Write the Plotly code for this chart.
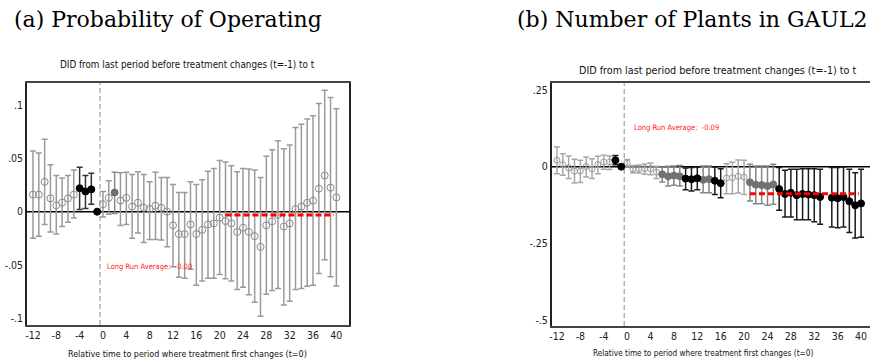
import plotly.graph_objects as go

# ---------------- data ----------------
t = list(range(-12, 41))

# Panel (a): Probability of Operating
a_est = [0.016, 0.016, 0.028, 0.0125, 0.006, 0.0085, 0.0125, 0.016, 0.022, 0.019, 0.021, 0.0,
         0.007, 0.013, 0.018, 0.0105, 0.013, 0.0047, 0.0084, 0.0037, 0.0025, 0.0056, 0.0037, 0.0,
         -0.0128, -0.021, -0.021, -0.012, -0.021, -0.017, -0.012, -0.011, -0.0056, -0.0088, -0.011,
         -0.019, -0.015, -0.019, -0.023, -0.033, -0.0128, -0.009, -0.003, -0.014, -0.011, 0.0025,
         0.0047, 0.0084, 0.0103, 0.0216, 0.034, 0.0225, 0.0134]
a_hi = [0.057, 0.055, 0.068, 0.044, 0.034, 0.0316, 0.034, 0.039, 0.0416, 0.034, 0.036, None,
        0.019, 0.029, 0.037, 0.0366, 0.037, 0.035, 0.0375, 0.035, 0.028, 0.037, 0.032, 0.032,
        0.0256, 0.018, 0.018, 0.028, 0.0256, 0.030, 0.038, 0.0406, 0.048, 0.0466, 0.043,
        0.0375, 0.0406, 0.040, 0.039, 0.032, 0.052, 0.058, 0.0666, 0.059, 0.0625, 0.079,
        0.082, 0.087, 0.090, 0.1016, 0.114, 0.107, 0.0966]
a_lo = [-0.025, -0.023, -0.012, -0.019, -0.021, -0.014, -0.010, -0.006, 0.002, 0.003, 0.007, None,
        -0.005, -0.0025, -0.0016, -0.013, -0.012, -0.025, -0.020, -0.029, -0.026, -0.026, -0.0266, -0.033,
        -0.0516, -0.0616, -0.0625, -0.054, -0.069, -0.065, -0.0625, -0.0625, -0.059, -0.063, -0.065,
        -0.073, -0.071, -0.078, -0.085, -0.098, -0.0775, -0.074, -0.072, -0.0875, -0.084, -0.073,
        -0.072, -0.070, -0.069, -0.058, -0.045, -0.061, -0.0697]
a_grp = ['o'] * 8 + ['b'] * 4 + ['o', 'o', 'g'] + ['o'] * 38
a_lr = -0.003
a_lr_label = "Long Run Average:  -0.00"

# Panel (b): Number of Plants in GAUL2
b_est = [0.021, 0.0065, -0.004, -0.015, -0.014, 0.0, -0.0076, 0.0065, 0.015, 0.015, 0.021, 0.0,
         0.012, -0.0076, -0.0065, -0.0065, -0.0065, -0.018, -0.025, -0.0315, -0.029, -0.0315,
         -0.039, -0.041, -0.038, -0.043, -0.041, -0.046, -0.054, -0.037, -0.036, -0.0315, -0.034,
         -0.051, -0.059, -0.06, -0.063, -0.058, -0.073, -0.089, -0.085, -0.093, -0.089, -0.091,
         -0.093, -0.099, None, -0.101, -0.103, -0.099, -0.113, -0.126, -0.12]
b_hi = [0.064, 0.042, 0.035, 0.024, 0.021, 0.0315, 0.026, 0.034, 0.037, 0.035, 0.036, None,
        0.023, 0.004, 0.005, 0.009, 0.012, 0.001, -0.001, 0.001, 0.002, 0.004,
        -0.004, -0.003, -0.001, 0.002, 0.002, -0.001, -0.0065, 0.0098, 0.014, 0.0217, 0.0207,
        0.0076, 0.002, 0.002, 0.002, 0.0076, -0.003, -0.012, -0.0087, -0.0087, -0.0065, -0.0065,
        -0.0065, -0.0087, None, -0.003, -0.003, -0.001, -0.0087, -0.0196, -0.0087]
b_lo = [-0.023, -0.028, -0.039, -0.053, -0.052, -0.034, -0.039, -0.023, -0.0087, -0.009, 0.0065, None,
        0.0, -0.02, -0.021, -0.025, -0.026, -0.039, -0.05, -0.063, -0.061, -0.063,
        -0.075, -0.079, -0.075, -0.085, -0.085, -0.091, -0.101, -0.088, -0.088, -0.086, -0.091,
        -0.112, -0.121, -0.121, -0.126, -0.123, -0.142, -0.164, -0.164, -0.173, -0.173, -0.173,
        -0.18, -0.188, None, -0.197, -0.199, -0.197, -0.215, -0.233, -0.23]
b_grp = (['o'] * 10 + ['b', 'b'] + ['o'] * 6 + ['g'] * 4 + ['b'] * 3 + ['g'] * 2 + ['b'] * 2
         + ['o'] * 4 + ['g'] * 5 + ['b'] * 15)
b_lr = -0.088
b_lr_label = "Long Run Average:  -0.09"

lr_span = [21, 39.6]
treat_line = -0.5

x_ticks = list(range(-12, 41, 4))
a_yticks = [0.1, 0.05, 0, -0.05, -0.1]
a_yticktext = [".1", ".05", "0", "-.05", "-.1"]
b_yticks = [0.25, 0, -0.25, -0.5]
b_yticktext = [".25", "0", "-.25", "-.5"]

titles = ["(a) Probability of Operating", "(b) Number of Plants in GAUL2"]
subtitle = "DID from last period before treatment changes (t=-1) to t"
xtitle = "Relative time to period where treatment first changes (t=0)"

# ---------------- figure ----------------
W, H = 870, 364
SANS = "Liberation Sans Narrow, DejaVu Sans Condensed, Liberation Sans, Arial"
SERIF = "DejaVu Serif, Liberation Serif, serif"

fig = go.Figure()

styles_a = {
    'o': dict(sym='circle-open', mcol='#8a8a8a', size=7, ecol='#9a9a9a'),
    'g': dict(sym='circle', mcol='#6e6e6e', size=7, ecol='#8a8a8a'),
    'b': dict(sym='circle', mcol='#000000', size=7, ecol='#333333'),
}
styles_b = {
    'o': dict(sym='circle-open', mcol='#9a9a9a', size=6, ecol='#a8a8a8'),
    'g': dict(sym='circle', mcol='#727272', size=7, ecol='#858585'),
    'b': dict(sym='circle', mcol='#000000', size=7, ecol='#1a1a1a'),
}


def add_panel(est, hi, lo, grp, styles, xa, ya):
    for g in ['o', 'g', 'b']:
        xs, ys, ep, em = [], [], [], []
        for ti, e, h, l, gg in zip(t, est, hi, lo, grp):
            if gg != g or e is None:
                continue
            xs.append(ti)
            ys.append(e)
            ep.append(None if h is None else h - e)
            em.append(None if l is None else e - l)
        st = styles[g]
        fig.add_trace(go.Scatter(
            x=xs, y=ys, mode='markers', xaxis=xa, yaxis=ya, showlegend=False,
            marker=dict(symbol=st['sym'], size=st['size'], color=st['mcol'],
                        line=dict(color=st['mcol'], width=1)),
            error_y=dict(type='data', symmetric=False, array=ep, arrayminus=em,
                         color=st['ecol'], thickness=1.5, width=3),
        ))


add_panel(a_est, a_hi, a_lo, a_grp, styles_a, 'x', 'y')
add_panel(b_est, b_hi, b_lo, b_grp, styles_b, 'x2', 'y2')

# long run average lines
for val, xa, ya in [(a_lr, 'x', 'y'), (b_lr, 'x2', 'y2')]:
    fig.add_trace(go.Scatter(x=lr_span, y=[val, val], mode='lines', xaxis=xa, yaxis=ya,
                             showlegend=False,
                             line=dict(color='#ff0000', width=3, dash='6px,3px')))

# reference lines
shapes = []
for xr, yr in [('x', 'y'), ('x2', 'y2')]:
    shapes.append(dict(type='line', xref=xr, yref=yr + ' domain', x0=treat_line, x1=treat_line,
                       y0=0, y1=1, line=dict(color='#8c8c8c', width=1, dash='5px,3px'), layer='below'))
    shapes.append(dict(type='line', xref=xr + ' domain', yref=yr, x0=0, x1=1, y0=0, y1=0,
                       line=dict(color='#000000', width=1.5), layer='below'))

axis_font = dict(family=SANS, size=10.5, color='#222222')
common_x = dict(tickmode='array', tickvals=x_ticks, ticktext=[str(v) for v in x_ticks],
                showgrid=False, zeroline=False, showline=True, linecolor='#444444', linewidth=1.5,
                mirror=True, ticks='', tickfont=axis_font)
common_y = dict(showgrid=False, zeroline=False, showline=True, linecolor='#222222', linewidth=1.5,
                ticks='', tickfont=axis_font)

fig.update_layout(
    width=W, height=H, margin=dict(l=0, r=0, t=0, b=0),
    paper_bgcolor='white', plot_bgcolor='white',
    xaxis=dict(common_x, domain=[25 / W, 348 / W], range=[-13.03, 42.2], anchor='y'),
    yaxis=dict(common_y, domain=[1 - 325 / H, 1 - 82.7 / H], range=[-0.1063, 0.121],
               tickmode='array', tickvals=a_yticks, ticktext=a_yticktext, mirror=True, anchor='x'),
    xaxis2=dict(common_x, domain=[551 / W, 1.0], range=[-12.89, 41.53], anchor='y2'),
    yaxis2=dict(common_y, domain=[1 - 326 / H, 1 - 83.3 / H], range=[-0.5196, 0.2718],
                tickmode='array', tickvals=b_yticks, ticktext=b_yticktext, mirror=False,
                anchor='x2'),
    shapes=shapes,
)

ann = []
ann.append(dict(text=titles[0], x=10 / W, y=1 - 19 / H, xref='paper', yref='paper',
                xanchor='left', yanchor='middle', showarrow=False,
                font=dict(family=SERIF, size=22, color='#000000')))
ann.append(dict(text=titles[1], x=514 / W, y=1 - 19 / H, xref='paper', yref='paper',
                xanchor='left', yanchor='middle', showarrow=False,
                font=dict(family=SERIF, size=22, color='#000000')))
ann.append(dict(text=subtitle, x=186 / W, y=1 - 64 / H, xref='paper', yref='paper',
                xanchor='center', yanchor='middle', showarrow=False,
                font=dict(family=SANS, size=9.8, color='#111111')))
ann.append(dict(text=subtitle, x=718 / W, y=1 - 70 / H, xref='paper', yref='paper',
                xanchor='center', yanchor='middle', showarrow=False,
                font=dict(family=SANS, size=10.7, color='#111111')))
ann.append(dict(text=xtitle, x=186 / W, y=1 - 354 / H, xref='paper', yref='paper',
                xanchor='center', yanchor='middle', showarrow=False,
                font=dict(family=SANS, size=8.9, color='#111111')))
ann.append(dict(text=xtitle, x=702.5 / W, y=1 - 353 / H, xref='paper', yref='paper',
                xanchor='center', yanchor='middle', showarrow=False,
                font=dict(family=SANS, size=8.2, color='#111111')))
ann.append(dict(text=a_lr_label, x=0.35, y=-0.051, xref='x', yref='y',
                xanchor='left', yanchor='middle', showarrow=False,
                font=dict(family=SANS, size=7.5, color='#ff2020')))
ann.append(dict(text=b_lr_label, x=0.8, y=0.129, xref='x2', yref='y2',
                xanchor='left', yanchor='middle', showarrow=False,
                font=dict(family=SANS, size=7.5, color='#ff2020')))
fig.update_layout(annotations=ann)

fig.write_html("out.html")
